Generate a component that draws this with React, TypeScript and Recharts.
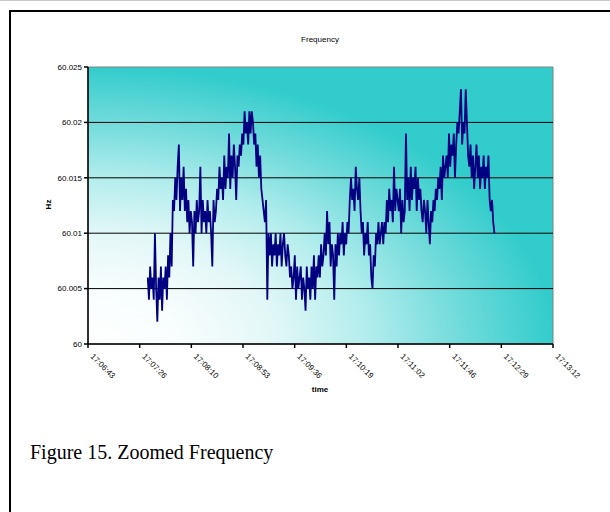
import React from 'react';
import { LineChart, Line, XAxis, YAxis, CartesianGrid, ReferenceLine, ReferenceArea } from 'recharts';

// axis tick labels as printed on the original chart
const timeTickLabels = ['17:06:43', '17:07:26', '17:08:10', '17:08:53', '17:09:36', '17:10:19', '17:11:02', '17:11:46', '17:12:29', '17:13:12'];
const hzTicks = [60, 60.005, 60.01, 60.015, 60.02, 60.025];
const gridLevels = [60.005, 60.01, 60.015, 60.02];

// samples, one per second from 17:07:33
const sampleStart = '17:07:33';
const sampleStepSec = 1;
const freqHz = [
  60.006, 60.004, 60.007, 60.005, 60.006, 60.004, 60.010, 60.005, 60.002, 60.006,
  60.004, 60.007, 60.003, 60.006, 60.005, 60.007, 60.004, 60.008, 60.006, 60.010,
  60.007, 60.013, 60.012, 60.015, 60.013, 60.016, 60.018, 60.012, 60.015, 60.013,
  60.016, 60.012, 60.014, 60.011, 60.013, 60.010, 60.012, 60.011, 60.007, 60.012,
  60.010, 60.013, 60.011, 60.012, 60.016, 60.010, 60.013, 60.011, 60.012, 60.010,
  60.013, 60.011, 60.012, 60.010, 60.007, 60.013, 60.011, 60.012, 60.014, 60.013,
  60.016, 60.014, 60.015, 60.013, 60.017, 60.014, 60.016, 60.015, 60.019, 60.014,
  60.017, 60.015, 60.018, 60.016, 60.013, 60.017, 60.016, 60.018, 60.017, 60.019,
  60.018, 60.021, 60.019, 60.020, 60.018, 60.021, 60.019, 60.021, 60.020, 60.018,
  60.019, 60.016, 60.018, 60.015, 60.017, 60.014, 60.013, 60.012, 60.011, 60.013,
  60.004, 60.010, 60.008, 60.010, 60.007, 60.009, 60.008, 60.010, 60.007, 60.009,
  60.008, 60.010, 60.007, 60.009, 60.010, 60.008, 60.007, 60.009, 60.008, 60.006,
  60.007, 60.005, 60.006, 60.008, 60.004, 60.007, 60.005, 60.006, 60.007, 60.004,
  60.006, 60.005, 60.003, 60.007, 60.005, 60.006, 60.004, 60.007, 60.005, 60.008,
  60.004, 60.007, 60.006, 60.008, 60.006, 60.009, 60.007, 60.008, 60.010, 60.008,
  60.012, 60.009, 60.011, 60.007, 60.009, 60.008, 60.004, 60.009, 60.007, 60.010,
  60.008, 60.010, 60.009, 60.011, 60.008, 60.010, 60.009, 60.011, 60.010, 60.013,
  60.015, 60.013, 60.014, 60.012, 60.016, 60.014, 60.013, 60.015, 60.012, 60.010,
  60.011, 60.008, 60.010, 60.009, 60.011, 60.008, 60.009, 60.006, 60.005, 60.008,
  60.007, 60.010, 60.009, 60.011, 60.009, 60.010, 60.011, 60.009, 60.011, 60.010,
  60.013, 60.011, 60.014, 60.012, 60.013, 60.011, 60.016, 60.012, 60.014, 60.013,
  60.012, 60.014, 60.010, 60.013, 60.011, 60.012, 60.019, 60.013, 60.015, 60.012,
  60.016, 60.013, 60.015, 60.014, 60.016, 60.012, 60.015, 60.013, 60.014, 60.012,
  60.011, 60.013, 60.012, 60.010, 60.013, 60.011, 60.009, 60.012, 60.011, 60.013,
  60.012, 60.014, 60.013, 60.015, 60.014, 60.016, 60.013, 60.017, 60.015, 60.016,
  60.017, 60.015, 60.019, 60.016, 60.018, 60.017, 60.019, 60.015, 60.018, 60.020,
  60.019, 60.021, 60.023, 60.018, 60.020, 60.019, 60.023, 60.020, 60.017, 60.016,
  60.018, 60.015, 60.017, 60.014, 60.016, 60.018, 60.015, 60.017, 60.014, 60.016,
  60.015, 60.017, 60.014, 60.016, 60.015, 60.017, 60.013, 60.012, 60.013, 60.011,
  60.010,
];

const toSec = (s: string) => {
  const [h, m, sec] = s.split(':').map(Number);
  return h * 3600 + m * 60 + sec;
};

const xMin = toSec(timeTickLabels[0]);
const xMax = toSec(timeTickLabels[timeTickLabels.length - 1]);
const xTicks = timeTickLabels.map((_, i) => xMin + (i * (xMax - xMin)) / (timeTickLabels.length - 1));

const t0 = toSec(sampleStart);
const chartData = freqHz.map((hz, i) => ({ t: t0 + i * sampleStepSec, hz }));

const FONT = '"Liberation Sans", Arial, sans-serif';

const TimeTick = (props: any) => {
  const { x, y, index } = props;
  return (
    <g transform={`translate(${x + 2},${y + 7}) rotate(45)`}>
      <text x={0} y={0} textAnchor="start" fontSize={8} fontFamily={FONT} fill="#000">
        {timeTickLabels[index]}
      </text>
    </g>
  );
};

const App: React.FC = () => {
  return (
    <div style={{ position: 'absolute', left: 0, top: 0, width: 610, height: 512, overflow: 'hidden', background: '#fff' }}>
      <div style={{ position: 'absolute', left: 0, top: 0, width: 610, height: 1, background: '#c8c8c8' }} />
      <div style={{ position: 'absolute', left: 9, top: 10, width: 700, height: 600, border: '2px solid #000' }} />

      <div style={{ position: 'absolute', left: 220, width: 200, top: 35, textAlign: 'center', fontFamily: FONT, fontSize: 8 }}>
        Frequency
      </div>

      <div style={{ position: 'absolute', left: 0, top: 0 }}>
        <LineChart width={610} height={410} data={chartData} margin={{ top: 67, right: 57, left: 28, bottom: 16 }}>
          <defs>
            <radialGradient id="plotBg" cx="0" cy="1" r="1" fx="0" fy="1">
              <stop offset="0" stopColor="#ffffff" />
              <stop offset="0.2" stopColor="#f8fdfd" />
              <stop offset="0.4" stopColor="#e3f7f7" />
              <stop offset="0.6" stopColor="#b3eded" />
              <stop offset="0.8" stopColor="#72dbdb" />
              <stop offset="1" stopColor="#33cccc" />
            </radialGradient>
          </defs>
          <CartesianGrid horizontal={false} vertical={false} fill="url(#plotBg)" fillOpacity={1} />
          <ReferenceArea x1={xMin} x2={xMax} y1={60} y2={60.025} fill="none" stroke="#808080" strokeWidth={1} />
          {gridLevels.map(v => (
            <ReferenceLine key={v} y={v} stroke="#000" strokeWidth={1} />
          ))}
          <XAxis
            dataKey="t"
            type="number"
            domain={[xMin, xMax]}
            ticks={xTicks}
            interval={0}
            tick={<TimeTick />}
            tickSize={4}
            height={50}
            stroke="#000"
            strokeWidth={1.5}
            allowDataOverflow
          />
          <YAxis
            type="number"
            domain={[60, 60.025]}
            ticks={hzTicks}
            interval={0}
            width={60}
            tickSize={4}
            tickMargin={2}
            stroke="#000"
            strokeWidth={1.5}
            tick={{ fill: '#000', fontSize: 8, fontFamily: FONT }}
            tickFormatter={(v: number) => String(+v.toFixed(3))}
            allowDataOverflow
          />
          <Line
            type="linear"
            dataKey="hz"
            stroke="#000080"
            strokeWidth={1.8}
            dot={false}
            isAnimationActive={false}
          />
        </LineChart>
      </div>

      <div style={{ position: 'absolute', left: 30, top: 200, width: 36, textAlign: 'center', transform: 'rotate(-90deg)', fontFamily: FONT, fontSize: 8, fontWeight: 'bold' }}>
        Hz
      </div>
      <div style={{ position: 'absolute', left: 270, width: 100, top: 385, textAlign: 'center', fontFamily: FONT, fontSize: 8, fontWeight: 'bold' }}>
        time
      </div>

      <div style={{ position: 'absolute', left: 30, top: 442, fontFamily: '"Liberation Serif", "Times New Roman", serif', fontSize: 20, lineHeight: 1, whiteSpace: 'nowrap' }}>
        Figure 15. Zoomed Frequency
      </div>
    </div>
  );
};

export default App;
